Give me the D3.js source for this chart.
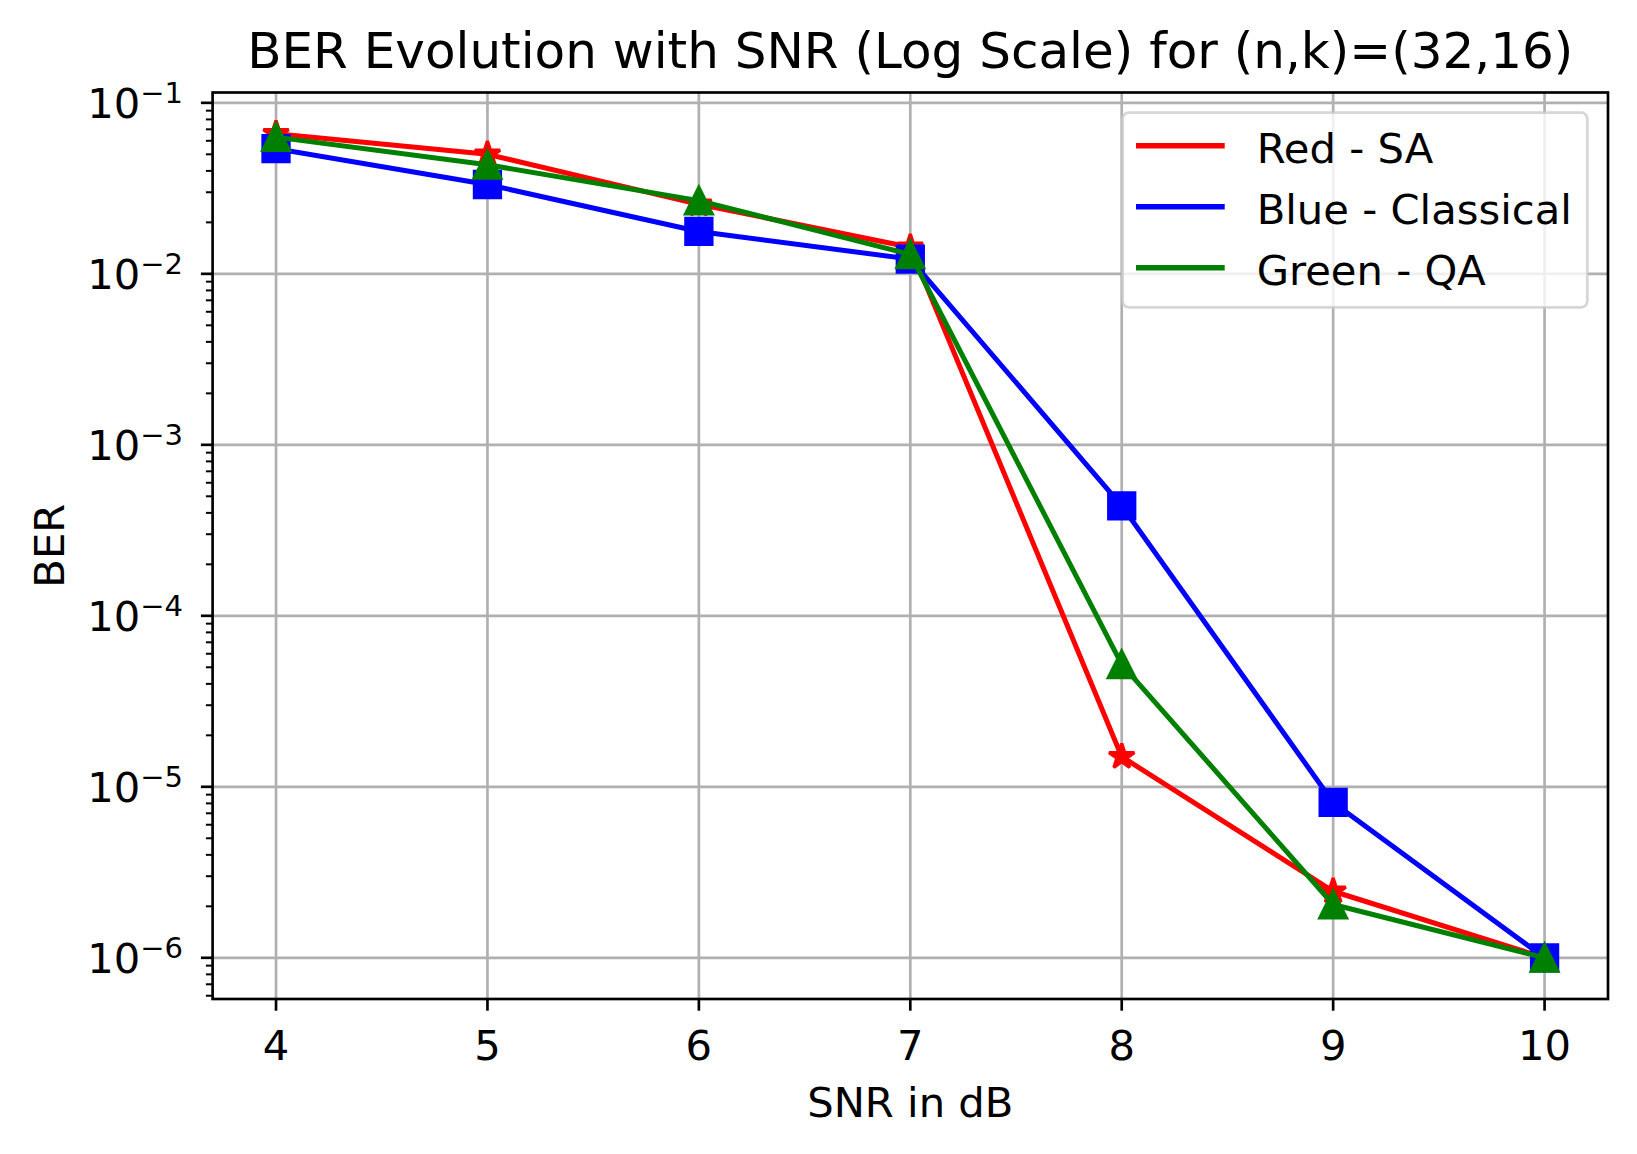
<!DOCTYPE html>
<html>
<head>
<meta charset="utf-8">
<script src="https://cdn.jsdelivr.net/npm/d3@7"></script>
<style>
  html, body { margin: 0; padding: 0; background: #fff; }
  svg { display: block; font-family: "DejaVu Sans", sans-serif; }
</style>
</head>
<body>
<svg id="chart" width="1637" height="1154"></svg>
<script>
// ---- data ----
const snr = [4, 5, 6, 7, 8, 9, 10];
const berSA = [0.066, 0.050, 0.0255, 0.0143, 1.5e-5, 2.45e-6, 1e-6];
const berClassical = [0.054, 0.0333, 0.0177, 0.0122, 4.4e-4, 8.1e-6, 1e-6];
const berQA = [0.063, 0.0434, 0.0268, 0.0130, 5.2e-5, 2.05e-6, 1e-6];
const seriesNames = ["Red - SA", "Blue - Classical", "Green - QA"];
const xTicks = [4, 5, 6, 7, 8, 9, 10];
const yTickExponents = [-6, -5, -4, -3, -2, -1];
const titleText = "BER Evolution with SNR (Log Scale) for (n,k)=(32,16)";
const xLabel = "SNR in dB";
const yLabel = "BER";

// ---- layout ----
const L = 212.6, R = 1608, T = 92.5, B = 999;
const FS = 41.7, FT = 50;
const svg = d3.select("#chart");

const xMin = d3.min(snr), xMax = d3.max(snr), xm = (xMax - xMin) * 0.05;
const x = d3.scaleLinear().domain([xMin - xm, xMax + xm]).range([L, R]);
const all = berSA.concat(berClassical, berQA);
const lo = Math.log10(d3.min(all)), hi = Math.log10(d3.max(all)), lm = (hi - lo) * 0.05;
const y = d3.scaleLog().domain([Math.pow(10, lo - lm), Math.pow(10, hi + lm)]).range([B, T]);

// grid
const grid = svg.append("g");
xTicks.forEach(t => grid.append("line").attr("x1", x(t)).attr("x2", x(t)).attr("y1", T).attr("y2", B)
  .attr("stroke", "#b0b0b0").attr("stroke-width", 2.67));
yTickExponents.forEach(e => grid.append("line").attr("x1", L).attr("x2", R)
  .attr("y1", y(Math.pow(10, e))).attr("y2", y(Math.pow(10, e)))
  .attr("stroke", "#b0b0b0").attr("stroke-width", 2.67));

// series
const series = [
  { name: seriesNames[0], vals: berSA, color: "#ff0000", marker: "star" },
  { name: seriesNames[1], vals: berClassical, color: "#0000ff", marker: "square" },
  { name: seriesNames[2], vals: berQA, color: "#008000", marker: "triangle" }
];

function markerPath(type) {
  if (type === "square") { const s = 13; return `M${-s},${-s}H${s}V${s}H${-s}Z`; }
  if (type === "triangle") { const s = 13.3; return `M0,${-s}L${-s},${s}L${s},${s}Z`; }
  const ro = 13.3, ri = ro * 0.381966; let p = "";
  for (let i = 0; i < 10; i++) {
    const r = i % 2 === 0 ? ro : ri; const a = -Math.PI / 2 + i * Math.PI / 5;
    p += (i === 0 ? "M" : "L") + (r * Math.cos(a)).toFixed(2) + "," + (r * Math.sin(a)).toFixed(2);
  }
  return p + "Z";
}

const line = d3.line().x(d => x(d[0])).y(d => y(d[1]));
series.forEach(s => {
  const pts = snr.map((v, i) => [v, s.vals[i]]);
  const g = svg.append("g");
  g.append("path").attr("d", line(pts)).attr("fill", "none").attr("stroke", s.color)
    .attr("stroke-width", 5).attr("stroke-linejoin", "round").attr("stroke-linecap", "square");
  g.selectAll("path.m").data(pts).enter().append("path").attr("class", "m")
    .attr("d", markerPath(s.marker))
    .attr("transform", d => `translate(${x(d[0])},${y(d[1])})`)
    .attr("fill", s.color).attr("stroke", s.color).attr("stroke-width", 3.3)
    .attr("stroke-linejoin", s.marker === "star" ? "bevel" : "miter");
});

// spines
svg.append("rect").attr("x", L).attr("y", T).attr("width", R - L).attr("height", B - T)
  .attr("fill", "none").attr("stroke", "#000").attr("stroke-width", 2.67);

// x ticks
xTicks.forEach(t => {
  svg.append("line").attr("x1", x(t)).attr("x2", x(t)).attr("y1", B).attr("y2", B + 11.7)
    .attr("stroke", "#000").attr("stroke-width", 2.67);
  svg.append("text").attr("x", x(t)).attr("y", 1060).attr("text-anchor", "middle")
    .attr("font-size", FS).text(t);
});

// y ticks (major + minor)
const [dLo, dHi] = y.domain();
for (let e = Math.floor(Math.log10(dLo)); e <= Math.ceil(Math.log10(dHi)); e++) {
  for (let m = 2; m <= 9; m++) {
    const v = m * Math.pow(10, e);
    if (v < dLo || v > dHi) continue;
    svg.append("line").attr("x1", L - 6.7).attr("x2", L).attr("y1", y(v)).attr("y2", y(v))
      .attr("stroke", "#000").attr("stroke-width", 2);
  }
}
yTickExponents.forEach(e => {
  const ty = y(Math.pow(10, e));
  svg.append("line").attr("x1", L - 11.7).attr("x2", L).attr("y1", ty).attr("y2", ty)
    .attr("stroke", "#000").attr("stroke-width", 2.67);
  const t = svg.append("text").attr("x", 183).attr("y", ty + 15).attr("text-anchor", "end")
    .attr("font-size", FS);
  t.append("tspan").text("10");
  t.append("tspan").attr("dy", -15).attr("font-size", 29).text("\u2212" + Math.abs(e));
});

// labels
svg.append("text").attr("x", (L + R) / 2).attr("y", 68).attr("text-anchor", "middle")
  .attr("font-size", FT).text(titleText);
svg.append("text").attr("x", (L + R) / 2).attr("y", 1117).attr("text-anchor", "middle")
  .attr("font-size", FS).text(xLabel);
svg.append("text").attr("transform", `translate(64,${(T + B) / 2}) rotate(-90)`)
  .attr("text-anchor", "middle").attr("font-size", FS).text(yLabel);

// legend
const lg = svg.append("g");
lg.append("rect").attr("x", 1122.7).attr("y", 112.7).attr("width", 464.6).attr("height", 194.6)
  .attr("rx", 6).attr("fill", "#fff").attr("fill-opacity", 0.8)
  .attr("stroke", "#cccccc").attr("stroke-opacity", 0.8).attr("stroke-width", 2.67);
series.forEach((s, i) => {
  const ly = 145.7 + i * 61;
  lg.append("line").attr("x1", 1136).attr("x2", 1224.7).attr("y1", ly).attr("y2", ly)
    .attr("stroke", s.color).attr("stroke-width", 5.5);
  lg.append("text").attr("x", 1256.7).attr("y", ly + 17).attr("font-size", FS).text(s.name);
});
</script>
</body>
</html>
